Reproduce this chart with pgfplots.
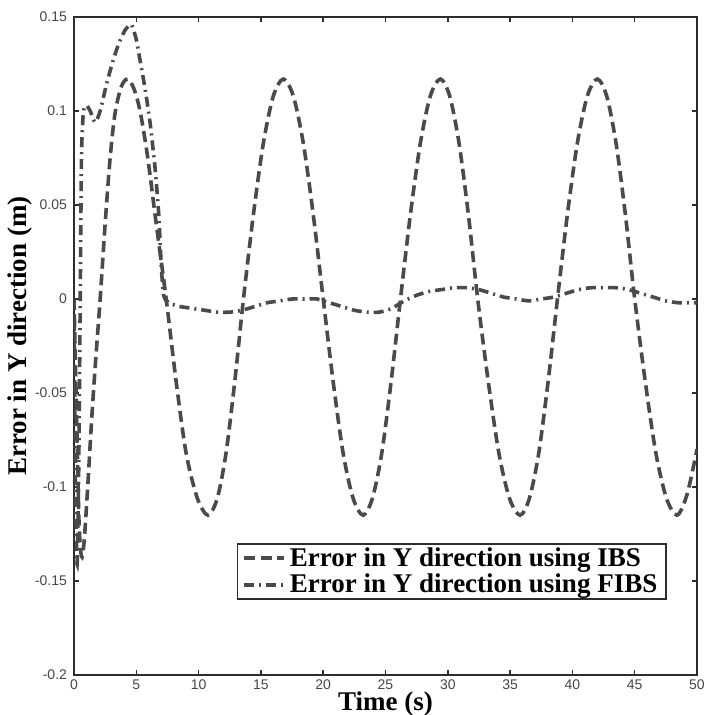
\documentclass[border=0pt]{standalone}
\usepackage{fontspec}
\setmainfont{Liberation Serif}
\newfontfamily\ticksans{Liberation Sans}
\usepackage{pgfplots}
\pgfplotsset{compat=1.18}

\definecolor{curve}{RGB}{74,74,74}
\definecolor{frame}{RGB}{45,45,45}
\definecolor{tickgray}{RGB}{70,70,70}

% tracking error, integral backstepping
\pgfplotstableread{
t      e
0      0
0.2   -0.060
0.4   -0.118
0.6   -0.137
0.8   -0.130
1.1   -0.100
1.4   -0.066
1.7   -0.036
2.1    0.000
2.5    0.040
2.9    0.075
3.3    0.099
3.8    0.113
4.3    0.117
4.8    0.112
5.3    0.100
5.9    0.076
6.6    0.040
7.4    0.000
8.2   -0.044
9.0   -0.082
9.9   -0.106
10.75 -0.115
11.5  -0.106
12.2  -0.082
12.9  -0.044
13.6   0.000
14.4   0.045
15.2   0.083
16.0   0.108
16.8   0.117
17.6   0.108
18.4   0.083
19.2   0.045
20.0   0.000
20.8  -0.044
21.6  -0.082
22.4  -0.106
23.2  -0.115
23.95 -0.106
24.7  -0.082
25.45 -0.044
26.2   0.000
27.0   0.045
27.8   0.083
28.6   0.108
29.4   0.117
30.15  0.108
30.9   0.083
31.65  0.045
32.4   0.000
33.25 -0.044
34.1  -0.082
34.95 -0.106
35.8  -0.115
36.55 -0.106
37.3  -0.082
38.05 -0.044
38.8   0.000
39.6   0.045
40.4   0.083
41.2   0.108
42.0   0.117
42.75  0.108
43.5   0.083
44.25  0.045
45.0   0.000
45.85 -0.044
46.7  -0.082
47.55 -0.106
48.4  -0.115
49.2  -0.104
50.0  -0.080
}\ibs

% tracking error, fuzzy integral backstepping
\pgfplotstableread{
t      e
0      0
0.12  -0.100
0.25  -0.141
0.38  -0.090
0.5    0.000
0.6    0.075
0.75   0.099
1.0    0.103
1.3    0.100
1.7    0.094
2.1    0.100
2.6    0.114
3.1    0.126
3.6    0.136
4.1    0.143
4.6    0.146
5.0    0.138
5.3    0.127
5.7    0.112
6.1    0.094
6.5    0.070
6.8    0.045
7.0    0.018
7.2    0.002
7.6   -0.002
8.5   -0.004
9.5   -0.005
10.5  -0.006
11.5  -0.007
12.5  -0.007
13.5  -0.006
14.5  -0.004
15.5  -0.002
16.5  -0.001
17.5   0.000
18.5   0.000
19.5   0.000
20.5  -0.002
21.5  -0.004
22.5  -0.006
23.5  -0.007
24.5  -0.007
25.5  -0.005
26.5  -0.001
27.5   0.002
28.5   0.004
29.5   0.005
30.5   0.006
31.5   0.006
32.5   0.005
33.5   0.003
34.5   0.001
35.5   0.000
36.5  -0.001
37.5   0.000
38.5   0.001
39.5   0.003
40.5   0.005
41.5   0.006
42.5   0.006
43.5   0.006
44.5   0.005
45.5   0.003
46.5   0.001
47.5  -0.001
48.5  -0.002
49.5  -0.002
50.0  -0.002
}\fibs

\begin{document}
\begin{tikzpicture}
\begin{axis}[
  scale only axis,
  width=311.5pt, height=329pt,
  xmin=0, xmax=50, ymin=-0.2, ymax=0.15,
  xtick={0,5,10,15,20,25,30,35,40,45,50},
  xticklabels={0,5,10,15,20,25,30,35,40,45,50},
  ytick={-0.2,-0.15,-0.1,-0.05,0,0.05,0.1,0.15},
  yticklabels={-0.2,-0.15,-0.1,-0.05,0,0.05,0.1,0.15},
  tick align=inside,
  major tick length=2.5pt,
  tick style={frame, line width=0.7pt},
  axis line style={frame, line width=1pt},
  ticklabel style={font=\ticksans\fontsize{7}{7.5}\selectfont, text=tickgray},
  xticklabel style={yshift=1.2pt},
  xlabel={Time (s)},
  ylabel={Error in Y direction (m)},
  every axis x label/.style={at={(axis description cs:0.5,-0.0547)}, anchor=base,
    font=\fontsize{13.5}{14}\selectfont\bfseries},
  every axis y label/.style={at={(axis description cs:-0.087,0.515)}, anchor=center, rotate=90,
    font=\fontsize{13.5}{14}\selectfont\bfseries},
  legend cell align=left,
  legend image code/.code={\draw[#1] (0pt,0pt) -- (20pt,0pt);},
  legend style={at={(rel axis cs:0.952,0.114)}, anchor=south east,
    draw=frame, line width=0.8pt, fill=white,
    font=\fontsize{13.5}{13.5}\selectfont\bfseries,
    inner xsep=2.5pt, inner ysep=0.6pt,
    nodes={inner ysep=1.2pt}},
]
\addplot[curve, line width=1.8pt, smooth, tension=0.5,
  dash pattern=on 5.5pt off 2.8pt] table[x=t, y=e] {\ibs};
\addlegendentry{Error in Y direction using IBS}
\addplot[curve, line width=1.8pt, smooth, tension=0.4,
  dash pattern=on 5pt off 2.5pt on 1pt off 2.5pt] table[x=t, y=e] {\fibs};
\addlegendentry{Error in Y direction using FIBS}
\end{axis}
\pgfresetboundingbox
\path[use as bounding box] (-37pt,-20pt) rectangle (315.5pt,337.5pt);
\end{tikzpicture}
\end{document}
